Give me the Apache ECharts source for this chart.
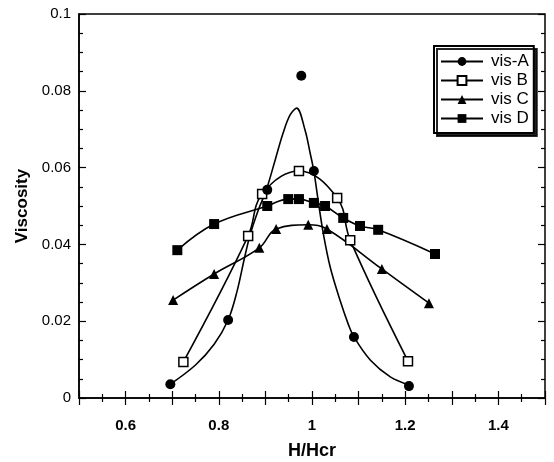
<!DOCTYPE html>
<html>
<head>
<meta charset="utf-8">
<script src="https://cdn.jsdelivr.net/npm/echarts@6/dist/echarts.min.js"></script>
<style>
  html, body { margin: 0; padding: 0; background: #fff; }
  #main { width: 554px; height: 462px; }
</style>
</head>
<body>
<div id="main"></div>
<script>
// measured points
var xA = [0.696, 0.820, 0.904, 0.977, 1.004, 1.090, 1.208];
var yA = [0.0036, 0.0203, 0.0542, 0.0839, 0.0591, 0.0159, 0.0031];
// vis-A fitted curve
var fitAx = [0.696, 0.75, 0.79, 0.82, 0.839, 0.855, 0.867, 0.885, 0.902, 0.921, 0.938, 0.953, 0.967, 0.985, 0.996, 1.004, 1.013, 1.024, 1.039, 1.060, 1.077, 1.090, 1.125, 1.168, 1.208];
var fitAy = [0.0036, 0.0086, 0.0140, 0.0203, 0.0277, 0.0364, 0.0424, 0.049, 0.0542, 0.062, 0.069, 0.0737, 0.0755, 0.0698, 0.0638, 0.0591, 0.0516, 0.043, 0.0341, 0.0255, 0.0195, 0.0159, 0.0099, 0.0055, 0.0034];

var xB = [0.724, 0.863, 0.893, 0.972, 1.054, 1.082, 1.206];
var yB = [0.0094, 0.0422, 0.0531, 0.0591, 0.0521, 0.0411, 0.0096];

var xC = [0.702, 0.790, 0.887, 0.923, 0.992, 1.032, 1.150, 1.251];
var yC = [0.0255, 0.0323, 0.0391, 0.0440, 0.0451, 0.0440, 0.0336, 0.0247];

var xD = [0.711, 0.790, 0.904, 0.949, 0.972, 1.004, 1.028, 1.067, 1.103, 1.142, 1.264];
var yD = [0.0385, 0.0453, 0.0500, 0.0518, 0.0518, 0.0508, 0.0500, 0.0469, 0.0448, 0.0438, 0.0375];

var xLabels = ['0.6', '0.8', '1', '1.2', '1.4'];
var yLabels = ['0', '0.02', '0.04', '0.06', '0.08', '0.1'];

function pairs(xs, ys) {
    return xs.map(function (x, i) { return [x, ys[i]]; });
}

var chart = echarts.init(document.getElementById('main'));

var tickLine = { color: '#000', width: 1.2 };
var option = {
    animation: false,
    backgroundColor: '#fff',
    textStyle: { fontFamily: 'Liberation Sans' },
    grid: {
        left: 79, right: 9, top: 14, bottom: 64,
        outerBoundsMode: 'none', containLabel: false,
        show: true, borderColor: '#000', borderWidth: 1.5
    },
    legend: {
        orient: 'vertical',
        left: 434, top: 46,
        padding: [7, 5, 6, 6],
        itemWidth: 42, itemHeight: 11, itemGap: 2,
        backgroundColor: '#fff',
        borderColor: '#000', borderWidth: 2,
        shadowColor: 'rgba(0,0,0,0.85)', shadowBlur: 0, shadowOffsetX: 3, shadowOffsetY: 3,
        textStyle: { color: '#000', fontSize: 17, fontFamily: 'Liberation Sans', padding: [0, 0, 0, 3] },
        data: ['vis-A', 'vis B', 'vis C', 'vis D']
    },
    xAxis: [{
        type: 'value', min: 0.5, max: 1.5, interval: 0.1,
        name: 'H/Hcr', nameLocation: 'middle', nameGap: 44,
        nameTextStyle: { color: '#000', fontSize: 18, fontWeight: 'bold' },
        axisLine: { onZero: false, lineStyle: { color: '#000', width: 1.5 } },
        axisTick: { inside: true, length: 7, lineStyle: tickLine },
        minorTick: { show: true, splitNumber: 2, length: 4, lineStyle: tickLine },
        splitLine: { show: false },
        axisLabel: {
            color: '#000', fontSize: 15, fontWeight: 'bold', margin: 20,
            formatter: function (v) {
                var s = String(Math.round(v * 10) / 10);
                return xLabels.indexOf(s) >= 0 ? s : '';
            }
        }
    }, {
        type: 'value', min: 0.5, max: 1.5, interval: 0.1, position: 'top',
        axisLine: { show: false },
        axisTick: { inside: true, length: 7, lineStyle: tickLine },
        minorTick: { show: true, splitNumber: 2, length: 4, lineStyle: tickLine },
        splitLine: { show: false },
        axisLabel: { show: false }
    }],
    yAxis: [{
        type: 'value', min: 0, max: 0.1, interval: 0.02,
        name: 'Viscosity', nameLocation: 'middle', nameGap: 48,
        nameTextStyle: { color: '#000', fontSize: 17, fontWeight: 'bold' },
        axisLine: { show: true, lineStyle: { color: '#000', width: 1.5 } },
        axisTick: { show: true, inside: true, length: 7, lineStyle: tickLine },
        minorTick: { show: true, splitNumber: 4, length: 4, lineStyle: tickLine },
        splitLine: { show: false },
        axisLabel: {
            color: '#000', fontSize: 15, margin: 8,
            formatter: function (v) {
                var s = String(Math.round(v * 100) / 100);
                return yLabels.indexOf(s) >= 0 ? s : '';
            }
        }
    }, {
        type: 'value', min: 0, max: 0.1, interval: 0.02, position: 'right',
        axisLine: { show: false },
        axisTick: { show: true, inside: true, length: 7, lineStyle: tickLine },
        minorTick: { show: true, splitNumber: 4, length: 4, lineStyle: tickLine },
        splitLine: { show: false },
        axisLabel: { show: false }
    }],
    series: [
        {
            name: 'vis-A', type: 'line', smooth: 0.35,
            data: pairs(fitAx, fitAy),
            symbol: 'circle', symbolSize: 10, showSymbol: false,
            lineStyle: { color: '#000', width: 1.6 },
            itemStyle: { color: '#000' },
            z: 2
        },
        {
            name: 'vis-A', type: 'scatter',
            data: pairs(xA, yA),
            symbol: 'circle', symbolSize: 10,
            itemStyle: { color: '#000', opacity: 1 },
            z: 5
        },
        {
            name: 'vis B', type: 'line', smooth: 0.4,
            data: pairs(xB, yB),
            symbol: 'rect', symbolSize: 9,
            lineStyle: { color: '#000', width: 1.6 },
            itemStyle: { color: '#fff', borderColor: '#000', borderWidth: 1.5 },
            z: 4
        },
        {
            name: 'vis C', type: 'line', smooth: 0.4,
            data: pairs(xC, yC),
            symbol: 'triangle', symbolSize: 10,
            lineStyle: { color: '#000', width: 1.6 },
            itemStyle: { color: '#000' },
            z: 3
        },
        {
            name: 'vis D', type: 'line', smooth: 0.4,
            data: pairs(xD, yD),
            symbol: 'rect', symbolSize: 10,
            lineStyle: { color: '#000', width: 1.6 },
            itemStyle: { color: '#000' },
            z: 3
        }
    ]
};
chart.setOption(option);
</script>
</body>
</html>
